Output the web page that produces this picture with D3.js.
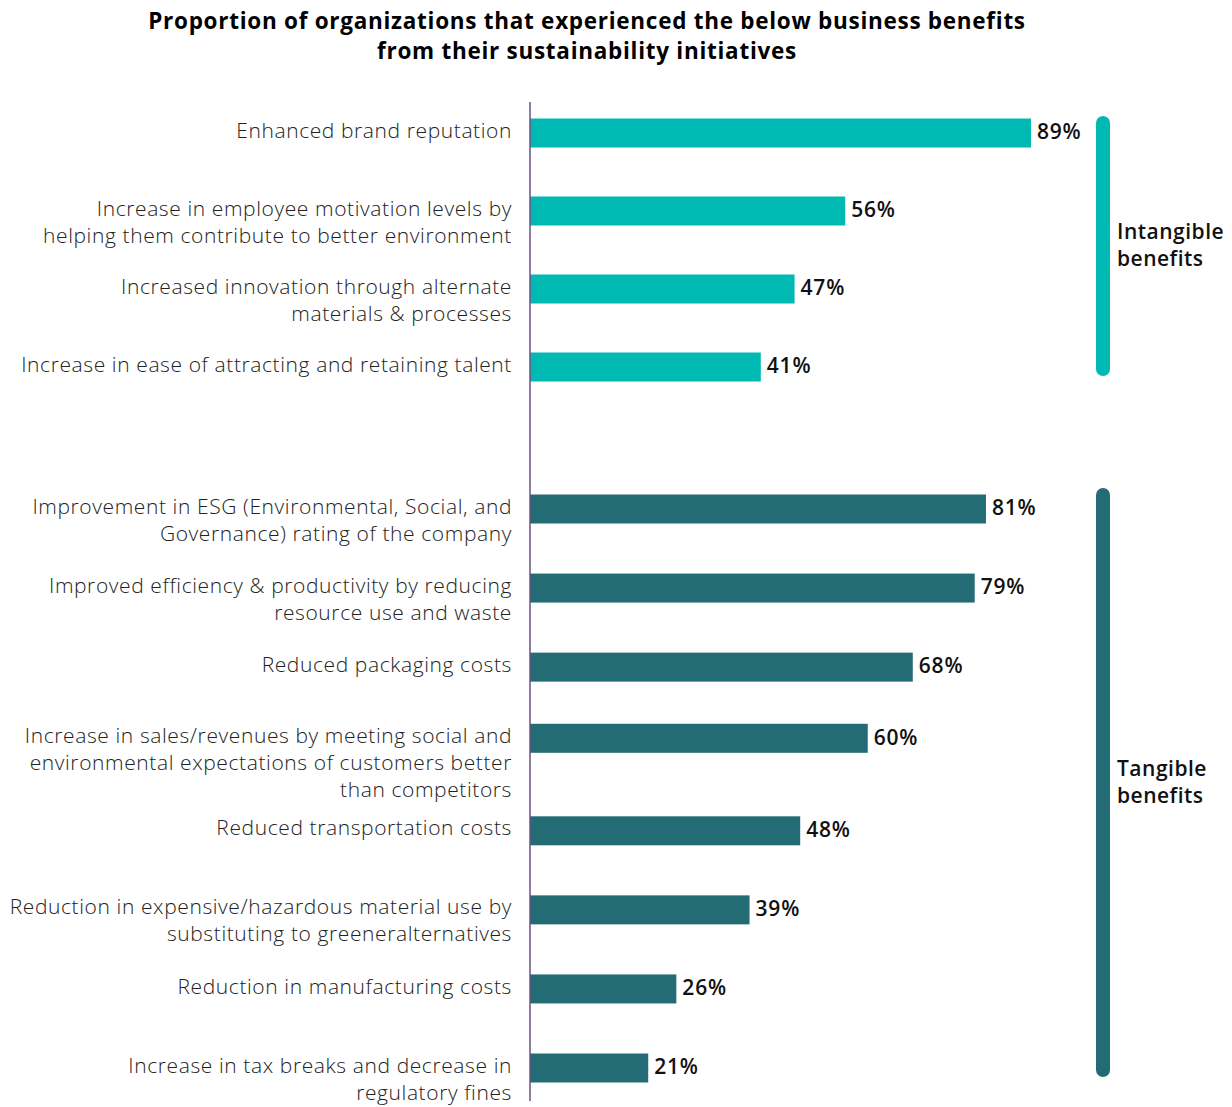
<!DOCTYPE html>
<html><head><meta charset="utf-8">
<script src="https://cdn.jsdelivr.net/npm/d3@7"></script>
<style>
body{margin:0;background:#fff;}
svg{display:block;}
</style></head>
<body>
<svg id="chart" width="1232" height="1107"></svg>
<script>
const titleLines = ["Proportion of organizations that experienced the below business benefits", "from their sustainability initiatives"];

const intangibleLabels = [
  ["Enhanced brand reputation"],
  ["Increase in employee motivation levels by", "helping them contribute to better environment"],
  ["Increased innovation through alternate", "materials & processes"],
  ["Increase in ease of attracting and retaining talent"]
];
const intangibleValues = [89, 56, 47, 41];

const tangibleLabels = [
  ["Improvement in ESG (Environmental, Social, and", "Governance) rating of the company"],
  ["Improved efficiency & productivity by reducing", "resource use and waste"],
  ["Reduced packaging costs"],
  ["Increase in sales/revenues by meeting social and", "environmental expectations of customers better", "than competitors"],
  ["Reduced transportation costs"],
  ["Reduction in expensive/hazardous material use by", "substituting to greeneralternatives"],
  ["Reduction in manufacturing costs"],
  ["Increase in tax breaks and decrease in", "regulatory fines"]
];
const tangibleValues = [81, 79, 68, 60, 48, 39, 26, 21];

const groupNames = [["Intangible", "benefits"], ["Tangible", "benefits"]];
const groupColors = ["#00B9B3", "#246C75"];

const svg = d3.select("#chart");
const FONT = "'Open Sans', sans-serif";

const x = d3.scaleLinear().domain([0, 89]).range([530, 1031]);
const barH = 29;
const lineH = 27;

// vertical layout: cumulative gap units, slightly adjusted around 3-line labels
function positions(labels, r) {
  const cum = [0];
  for (let i = 1; i < labels.length; i++) {
    let w = 1;
    if (labels[i - 1].length >= 3) w += 0.17;
    if (labels[i].length >= 3) w -= 0.1;
    cum.push(cum[i - 1] + w);
  }
  const s = d3.scaleLinear().domain([0, cum[cum.length - 1]]).range(r);
  return i => s(cum[i]);
}
const yInt = positions(intangibleLabels, [133, 367]);
const yTan = positions(tangibleLabels, [509, 1068]);

// title
svg.append("text")
  .attr("x", 587).attr("y", 29)
  .attr("text-anchor", "middle")
  .style("font-family", FONT).style("font-weight", 700).style("font-size", "22.5px")
  .style("letter-spacing", "0.72px").style("fill", "#000")
  .selectAll("tspan").data(titleLines).join("tspan")
  .attr("x", 587).attr("dy", (d, i) => i === 0 ? 0 : 30)
  .text(d => d);

const groups = [
  {labels: intangibleLabels, values: intangibleValues, y: yInt, color: groupColors[0]},
  {labels: tangibleLabels, values: tangibleValues, y: yTan, color: groupColors[1]}
];

groups.forEach((g, gi) => {
  const data = g.values.map((v, i) => ({v, i, lines: g.labels[i]}));
  const G = svg.append("g");
  G.selectAll("rect.bar").data(data).join("rect")
    .attr("class", "bar")
    .attr("x", x(0))
    .attr("y", d => g.y(d.i) - barH / 2)
    .attr("width", d => x(d.v) - x(0))
    .attr("height", barH)
    .attr("fill", g.color);

  G.selectAll("text.val").data(data).join("text")
    .attr("class", "val")
    .attr("x", d => x(d.v) + 6)
    .attr("y", d => g.y(d.i))
    .attr("dy", "0.3em")
    .style("font-family", FONT).style("font-weight", 600).style("font-size", "21px")
    .style("letter-spacing", "0.8px").style("fill", "#111")
    .text(d => d.v + "%");

  const lab = G.selectAll("text.lab").data(data).join("text")
    .attr("class", "lab")
    .attr("x", 512)
    .attr("y", d => g.y(d.i))
    .attr("text-anchor", "end")
    .style("font-family", FONT).style("font-weight", 300).style("font-size", "21px")
    .style("letter-spacing", "0.6px").style("fill", "#222");
  lab.selectAll("tspan").data(d => d.lines.map((t, k) => ({t, k, y: g.y(d.i)}))).join("tspan")
    .attr("x", 512)
    .attr("y", d => d.y + d.k * lineH)
    .attr("dy", "0.22em")
    .text(d => d.t);

  // bracket
  const top = g.y(0) - (gi === 0 ? 17 : 21);
  const bot = g.y(g.values.length - 1) + 9;
  svg.append("rect")
    .attr("x", 1096).attr("y", top)
    .attr("width", 14).attr("height", bot - top)
    .attr("rx", 7).attr("ry", 7)
    .attr("fill", g.color);

  const mid = (top + bot) / 2;
  svg.append("text")
    .attr("x", 1117).attr("y", mid - 14)
    .style("font-family", FONT).style("font-weight", 600).style("font-size", "21px")
    .style("letter-spacing", "0.5px").style("fill", "#111")
    .selectAll("tspan").data(groupNames[gi]).join("tspan")
    .attr("x", 1117).attr("dy", (d, i) => i === 0 ? "0.35em" : 27)
    .text(d => d);
});

// axis line
svg.append("line")
  .attr("x1", x(0)).attr("x2", x(0))
  .attr("y1", 102).attr("y2", 1101)
  .attr("stroke", "#6B4F86").attr("stroke-width", 1.5);
</script>
</body></html>
